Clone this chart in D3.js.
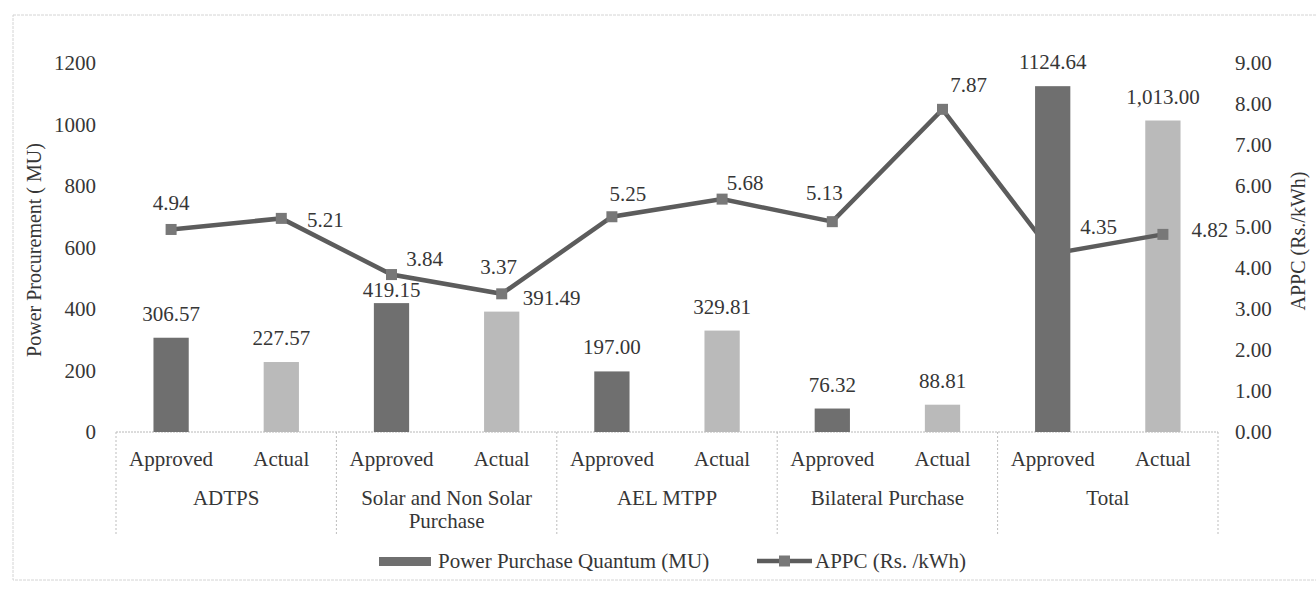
<!DOCTYPE html>
<html>
<head>
<meta charset="utf-8">
<script src="https://cdn.jsdelivr.net/npm/d3@7"></script>
<style>
  body { margin: 0; background: #fff; }
  svg text { font-family: "Liberation Serif", "DejaVu Serif", serif; fill: #363636; }
</style>
</head>
<body>
<svg id="chart" width="1316" height="590" font-family="Liberation Serif, DejaVu Serif, serif"></svg>
<script>
// chart values
const groups = ["ADTPS", "Solar and Non Solar Purchase", "AEL MTPP", "Bilateral Purchase", "Total"];
const types = ["Approved", "Actual"];
const quantum = [306.57, 227.57, 419.15, 391.49, 197.00, 329.81, 76.32, 88.81, 1124.64, 1013.00];
const appc = [4.94, 5.21, 3.84, 3.37, 5.25, 5.68, 5.13, 7.87, 4.35, 4.82];
const leftTicks = [0, 200, 400, 600, 800, 1000, 1200];
const rightTicks = [0, 1, 2, 3, 4, 5, 6, 7, 8, 9];

// label nudges (px)
const barLabelShift = [[0, 0], [0, 0], [0, 11], [50, 10], [0, 0], [0, 0], [0, 0], [0, 0], [0, 0], [0, 0]];
const lineLabelShift = [[0, -26], [44, 2], [33, -16], [-3, -27], [16, -23], [23, -16], [-8, -29], [26, -24], [46, -27], [47, -4]];

const FONT = "Liberation Serif, DejaVu Serif, serif";
const svg = d3.select("#chart");
const plotLeft = 116, plotRight = 1218, plotTop = 63, base = 432;

const cats = d3.range(quantum.length);
const x = d3.scaleBand().domain(cats).range([plotLeft, plotRight]).paddingInner(0.68).paddingOuter(0.34);
const y = d3.scaleLinear().domain([0, 1200]).range([base, plotTop]);
const y2 = d3.scaleLinear().domain([0, 9]).range([base, plotTop]);
const cx = i => x(i) + x.bandwidth() / 2;
const fmtApproved = d3.format(".2f"), fmtActual = d3.format(",.2f");

// outer frame
svg.append("rect")
  .attr("x", 13).attr("y", 15).attr("width", 1310).attr("height", 565)
  .attr("fill", "none").attr("stroke", "#d4d4d4").attr("stroke-dasharray", "3,1");

// left axis
const yAxis = svg.append("g")
  .attr("transform", "translate(96,0)")
  .call(d3.axisLeft(y).tickValues(leftTicks).tickSize(0).tickPadding(0).tickFormat(d3.format("d")))
  .attr("font-family", FONT).attr("font-size", 21);
yAxis.select(".domain").remove();

// right axis
const y2Axis = svg.append("g")
  .attr("transform", "translate(1235,0)")
  .call(d3.axisRight(y2).tickValues(rightTicks).tickSize(0).tickPadding(0).tickFormat(d3.format(".2f")))
  .attr("font-family", FONT).attr("font-size", 21);
y2Axis.select(".domain").remove();

// axis titles
svg.append("text")
  .attr("transform", "translate(41,250) rotate(-90)")
  .attr("text-anchor", "middle").attr("font-size", 20)
  .text("Power Procurement ( MU)");
svg.append("text")
  .attr("transform", "translate(1305,241) rotate(-90)")
  .attr("text-anchor", "middle").attr("font-size", 20)
  .text("APPC (Rs./kWh)");

// category axis box
const gStep = (plotRight - plotLeft) / groups.length;
svg.append("line")
  .attr("x1", plotLeft).attr("x2", plotRight).attr("y1", base).attr("y2", base)
  .attr("stroke", "#b8b8b8").attr("stroke-dasharray", "2,1");
svg.selectAll(".sep")
  .data(d3.range(groups.length + 1))
  .enter().append("line")
  .attr("class", "sep")
  .attr("x1", d => plotLeft + d * gStep).attr("x2", d => plotLeft + d * gStep)
  .attr("y1", base).attr("y2", 535)
  .attr("stroke", "#bdbdbd").attr("stroke-dasharray", "2,2");

svg.selectAll(".cat")
  .data(cats)
  .enter().append("text")
  .attr("class", "cat")
  .attr("x", d => cx(d)).attr("y", 466)
  .attr("text-anchor", "middle").attr("font-size", 21)
  .text(d => types[d % 2]);

const gl = svg.selectAll(".grp")
  .data(groups)
  .enter().append("text")
  .attr("class", "grp")
  .attr("x", (d, i) => plotLeft + (i + 0.5) * gStep).attr("y", 505)
  .attr("text-anchor", "middle").attr("font-size", 21);

// wrap long group names
gl.each(function(d) {
  const t = d3.select(this);
  const words = d.split(" ");
  let line = [];
  let ts = t.append("tspan").attr("x", t.attr("x")).attr("dy", 0);
  words.forEach(w => {
    line.push(w);
    ts.text(line.join(" "));
    if (ts.node().getComputedTextLength() > 200 && line.length > 1) {
      line.pop();
      ts.text(line.join(" "));
      line = [w];
      ts = t.append("tspan").attr("x", t.attr("x")).attr("dy", 23).text(w);
    }
  });
});

// bars
const bars = svg.append("g").selectAll("rect")
  .data(quantum)
  .enter().append("rect")
  .attr("x", (d, i) => x(i))
  .attr("y", d => y(d))
  .attr("width", x.bandwidth())
  .attr("height", d => base - y(d))
  .attr("fill", (d, i) => i % 2 === 0 ? "#6f6f6f" : "#bababa");

// APPC line
const line = d3.line().x((d, i) => cx(i)).y(d => y2(d));
const lineG = svg.append("g");
lineG.append("path")
  .datum(appc)
  .attr("d", line)
  .attr("fill", "none")
  .attr("stroke", "#5c5c5c")
  .attr("stroke-width", 4.5);
lineG.selectAll("rect")
  .data(appc)
  .enter().append("rect")
  .attr("x", (d, i) => cx(i) - 5.5)
  .attr("y", d => y2(d) - 5.5)
  .attr("width", 11).attr("height", 11)
  .attr("fill", "#787878");

// the Total / Approved bar sits over the line in the picture
svg.append("g").node().appendChild(bars.filter((d, i) => i === 8).node());

// bar value labels
svg.selectAll(".blab")
  .data(quantum)
  .enter().append("text")
  .attr("class", "blab")
  .attr("x", (d, i) => cx(i) + barLabelShift[i][0])
  .attr("y", (d, i) => y(d) - 17 + barLabelShift[i][1])
  .attr("text-anchor", "middle").attr("font-size", 21)
  .text((d, i) => i % 2 === 0 ? fmtApproved(d) : fmtActual(d));

// line value labels
svg.selectAll(".llab")
  .data(appc)
  .enter().append("text")
  .attr("class", "llab")
  .attr("x", (d, i) => cx(i) + lineLabelShift[i][0])
  .attr("y", (d, i) => y2(d) + 7 + lineLabelShift[i][1])
  .attr("text-anchor", "middle").attr("font-size", 21)
  .text(d => d3.format(".2f")(d));

// legend
const lg = svg.append("g").attr("transform", "translate(0,561)");
lg.append("rect").attr("x", 379).attr("y", -4).attr("width", 52).attr("height", 9).attr("fill", "#6f6f6f");
lg.append("text").attr("x", 438).attr("y", 7).attr("font-size", 21).text("Power Purchase Quantum (MU)");
lg.append("line").attr("x1", 757).attr("x2", 812).attr("y1", 0).attr("y2", 0)
  .attr("stroke", "#5c5c5c").attr("stroke-width", 4.5);
lg.append("rect").attr("x", 779).attr("y", -5.5).attr("width", 11).attr("height", 11).attr("fill", "#787878");
lg.append("text").attr("x", 815).attr("y", 7).attr("font-size", 21).text("APPC (Rs. /kWh)");
</script>
</body>
</html>
